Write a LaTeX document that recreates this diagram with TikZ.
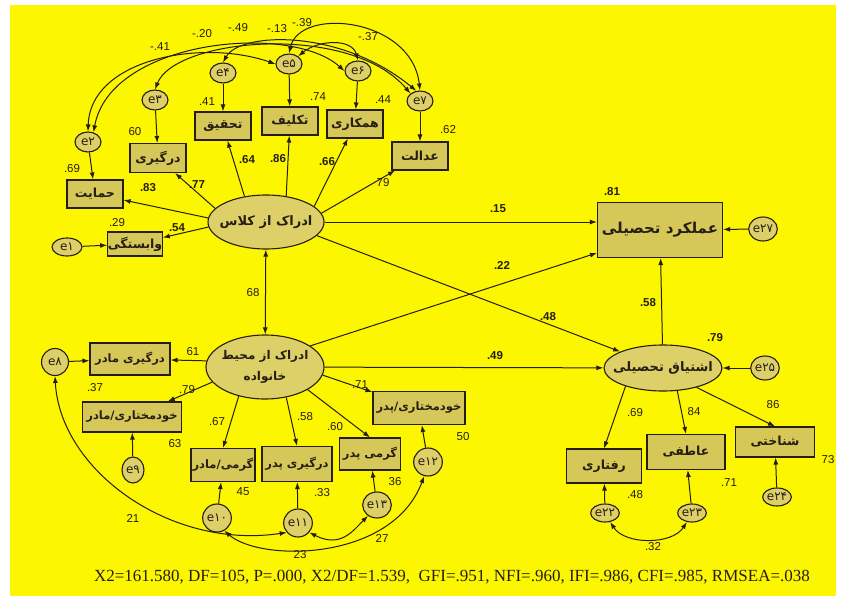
\documentclass[tikz,border=0pt]{standalone}
\usepackage{fontspec}
\setmainfont{Liberation Sans}
\newfontfamily\farsi[Script=Arabic]{DejaVu Sans}
\newfontfamily\footfont{Liberation Serif}
\TeXXeTstate=1
\usetikzlibrary{arrows.meta,shapes.geometric}
\definecolor{bgyel}{RGB}{252,246,0}
\definecolor{boxfill}{RGB}{214,200,88}
\definecolor{latfill}{RGB}{222,208,104}
\definecolor{ink}{RGB}{38,30,18}
\newcommand{\rtl}[1]{\beginR #1\endR}

\begin{document}
\begin{tikzpicture}[x=1pt, y=-1pt, >={Latex[length=7pt,width=5pt]},
  every node/.style = {text=ink},
  obs/.style = {shape=rectangle, draw=ink, line width=1.1pt,
    fill=boxfill, inner sep=0pt, minimum width=56pt, minimum height=28pt,
    font=\farsi\bfseries\fontsize{12.5}{14}\selectfont},
  famtxt/.style = {font=\farsi\bfseries\fontsize{11.5}{13}\selectfont},
  lat/.style = {shape=ellipse, draw=ink, line width=1.1pt,
    fill=latfill, inner xsep=-12pt, inner ysep=0pt, align=center,
    font=\farsi\bfseries\fontsize{13}{20}\selectfont},
  err/.style = {shape=ellipse, draw=ink, line width=1.1pt,
    fill=latfill, inner sep=0pt, minimum width=26pt, minimum height=20pt,
    font=\farsi\fontsize{12}{13}\selectfont},
  coef/.style = {inner sep=1pt, font=\fontsize{11.5}{13}\selectfont},
  bcoef/.style = {inner sep=1pt, font=\bfseries\fontsize{11.5}{13}\selectfont},
  arr/.style = {->, draw=ink, line width=1pt},
  corr/.style = {<->, draw=ink, line width=1pt}]

  \fill[white] (0,0) rectangle (844,602);
  \fill[bgyel] (10,5) rectangle (836,596);
  \useasboundingbox (0,0) rectangle (844,602);

  % latent variables
  \node[lat, minimum width=116pt, minimum height=54pt] (cls) at (266,222) {\rtl{ادراک از کلاس}};
  \node[lat, minimum width=118pt, minimum height=64pt,
    font=\farsi\bfseries\fontsize{12}{21}\selectfont] (fam) at (265,367) {\rtl{ادراک از محیط}\\\rtl{خانواده}};
  \node[lat, minimum width=118pt, minimum height=46pt] (eng) at (663,368) {\rtl{اشتیاق تحصیلی}};
  \node[obs, minimum width=125pt, minimum height=55pt,
    font=\farsi\bfseries\fontsize{15}{17}\selectfont] (perf) at (660,230) {\rtl{عملکرد تحصیلی}};

  % class indicators
  \node[obs] (hem) at (95,194) {\rtl{حمایت}};
  \node[obs, minimum height=29pt] (dar) at (158,158) {\rtl{درگیری}};
  \node[obs] (tah) at (223,126) {\rtl{تحقیق}};
  \node[obs] (tak) at (290,121) {\rtl{تکلیف}};
  \node[obs] (ham) at (355,124) {\rtl{همکاری}};
  \node[obs] (ada) at (420,156) {\rtl{عدالت}};
  \node[obs, minimum width=53pt, minimum height=24pt] (vab) at (135,244) {\rtl{وابستگی}};

  \node[err, minimum width=30pt, minimum height=18pt] (e1) at (67,247) {e۱};
  \node[err] (e2) at (88,142) {e۲};
  \node[err] (e3) at (155,100) {e۳};
  \node[err] (e4) at (223,73) {e۴};
  \node[err] (e5) at (289,64) {e۵};
  \node[err] (e6) at (358,71) {e۶};
  \node[err] (e7) at (420,101) {e۷};

  % family indicators
  \node[obs, famtxt, minimum width=80pt, minimum height=32pt] (dm) at (130,359) {\rtl{درگیری مادر}};
  \node[obs, famtxt, minimum width=99pt, minimum height=30pt] (km) at (132,417) {\rtl{خودمختاری/مادر}};
  \node[obs, famtxt, minimum width=64pt, minimum height=33pt] (gm) at (223,465) {\rtl{گرمی/مادر}};
  \node[obs, famtxt, minimum width=70pt, minimum height=35pt] (dp) at (297,464) {\rtl{درگیری پدر}};
  \node[obs, famtxt, minimum width=61pt, minimum height=32pt] (gp) at (370,454) {\rtl{گرمی پدر}};
  \node[obs, famtxt, minimum width=92pt, minimum height=33pt] (kp) at (419,408) {\rtl{خودمختاری/پدر}};

  \node[err, minimum width=27pt, minimum height=27pt] (e8) at (55,362) {e۸};
  \node[err, minimum width=22pt, minimum height=26pt] (e9) at (133,470) {e۹};
  \node[err, minimum width=24pt, minimum height=28pt] (e10) at (217,518) {e۱۰};
  \node[err, minimum width=25pt, minimum height=28pt] (e11) at (298,523) {e۱۱};
  \node[err, minimum width=24pt, minimum height=26pt] (e13) at (377,505) {e۱۳};
  \node[err, minimum width=24pt, minimum height=28pt] (e12) at (428,462) {e۱۲};

  % engagement indicators
  \node[obs, minimum width=75pt, minimum height=34pt] (raf) at (604,466) {\rtl{رفتاری}};
  \node[obs, minimum width=78pt, minimum height=35pt] (atf) at (686,452) {\rtl{عاطفی}};
  \node[obs, minimum width=79pt, minimum height=30pt] (shn) at (775,442) {\rtl{شناختی}};

  \node[err, minimum width=28pt, minimum height=18pt] (e22) at (605,513) {e۲۲};
  \node[err, minimum width=28pt, minimum height=18pt] (e23) at (692,513) {e۲۳};
  \node[err, minimum width=28pt, minimum height=18pt] (e24) at (777,497) {e۲۴};
  \node[err, minimum width=25pt, minimum height=24pt] (e25) at (765,368) {e۲۵};
  \node[err, minimum width=25pt, minimum height=24pt] (e27) at (763,229) {e۲۷};

  % loadings
  \draw[arr] (cls.176) -- (hem);
  \draw[arr] (cls.185) -- (vab);
  \draw[arr] (cls.165) -- (dar);
  \draw[arr] (cls.130) -- (tah);
  \draw[arr] (cls.52) -- (tak);
  \draw[arr] (cls.18) -- (ham);
  \draw[arr] (cls.9) -- (ada);
  \draw[arr] (fam.174) -- (dm);
  \draw[arr] (fam.196) -- (km);
  \draw[arr] (fam.228) -- (gm.north);
  \draw[arr] (fam.305) -- (dp.north);
  \draw[arr] (fam.332) -- (gp.north);
  \draw[arr] (fam.352) -- (kp);
  \draw[arr] (eng.206) -- (raf.north);
  \draw[arr] (eng.302) -- (atf.north);
  \draw[arr] (eng.330) -- (shn.north);

  % error terms
  \foreach \e/\v in {e1/vab, e2/hem, e3/dar, e4/tah, e5/tak, e6/ham, e7/ada,
    e8/dm, e9/km, e10/gm, e11/dp, e13/gp, e12/kp, e22/raf, e23/atf, e24/shn,
    e25/eng, e27/perf}
    \draw[arr] (\e) -- (\v);

  % structural paths
  \draw[corr] (cls) -- (fam);
  \draw[arr] (cls) -- (cls -| perf.west);
  \draw[arr] (cls.345) -- (eng);
  \draw[arr] (fam.25) -- (perf.200);
  \draw[arr] (fam) -- (eng);
  \draw[arr] (eng) -- (perf);

  % covariances
  \draw[corr] (e2.north) .. controls (90,60) and (200,38) .. (e5.west);
  \draw[corr] (e2.60) .. controls (110,40) and (290,22) .. (e6.west);
  \draw[corr] (e3.north) .. controls (175,38) and (350,22) .. (e7.north west);
  \draw[corr] (e4.north) .. controls (240,32) and (340,28) .. (e7.110);
  \draw[corr] (e5.north) .. controls (300,6) and (412,18) .. (e7.north);
  \draw[corr] (e5.40) .. controls (318,40) and (352,38) .. (e6.north);
  \draw[corr] (e8.south) .. controls (60,470) and (170,550) .. (e11.220);
  \draw[corr] (e10.300) .. controls (260,562) and (392,562) .. (e12.255);
  \draw[corr] (e11.320) .. controls (340,548) and (352,532) .. (e13.230);
  \draw[corr] (e22.300) .. controls (625,545) and (672,545) .. (e23.240);

  % coefficients
  \foreach \px/\py/\val [count=\i] in {72/169/.69, 135/132/60, 207/102/.41,
    318/97/.74, 383/100/.44, 448/130/.62, 383/183/79, 117/223/.29,
    160/47/-.41, 202/34/-.20, 238/28/-.49, 277/29/-.13, 302/23/-.39,
    368/37/-.37, 253/293/68, 193/352/61, 95/388/.37, 187/390/.79,
    175/444/63, 217/422/.67, 305/417/.58, 335/427/.60, 360/385/.71,
    463/437/50, 243/492/45, 322/493/.33, 395/482/36, 133/518/21,
    382/538/27, 300/555/23, 635/413/.69, 694/412/84, 773/405/86,
    828/460/73, 729/483/.71, 635/495/.48, 653/547/.32}
    \node[coef] (c\i) at (\px,\py) {\val};
  \foreach \px/\py/\val [count=\i] in {148/188/.83, 197/185/.77,
    247/160/.64, 278/159/.86, 327/162/.66, 177/228/.54, 498/209/.15,
    502/265/.22, 548/317/.48, 495/356/.49, 648/303/.58, 612/192/.81,
    715/338/.79}
    \node[bcoef] (b\i) at (\px,\py) {\val};

  \node[font=\footfont\fontsize{17}{19}\selectfont] (fit) at (452,577)
    {X2=161.580, DF=105, P=.000, X2/DF=1.539,\ \ GFI=.951, NFI=.960, IFI=.986, CFI=.985, RMSEA=.038};
\end{tikzpicture}
\end{document}
